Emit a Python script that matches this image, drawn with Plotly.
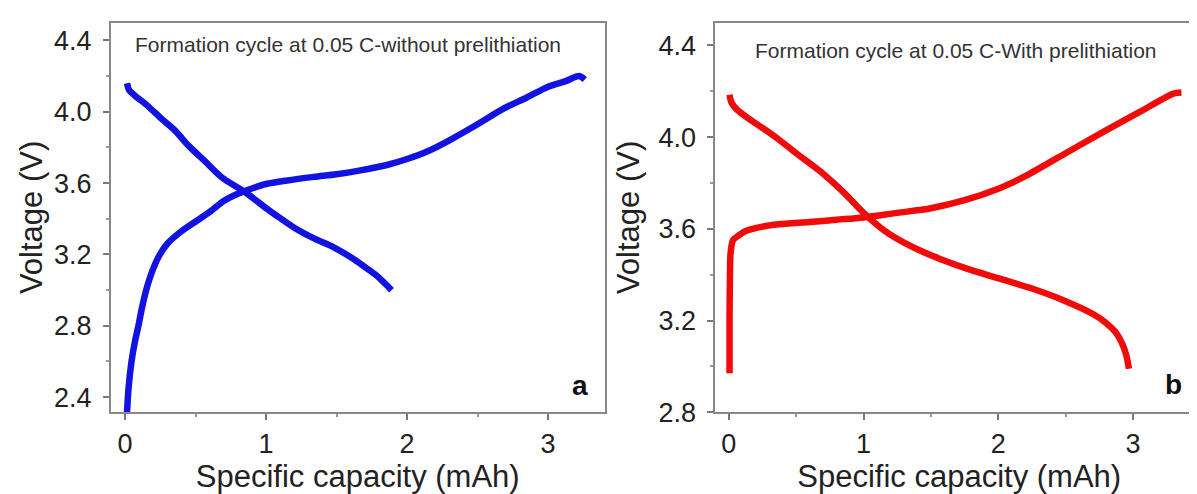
import plotly.graph_objects as go

# Panel a: without prelithiation (blue)
cap_a_charge = [0.014, 0.025, 0.046, 0.07, 0.095, 0.12, 0.15, 0.19, 0.24, 0.30, 0.40, 0.53, 0.62, 0.70, 0.80, 0.90, 1.0, 1.15, 1.34, 1.5, 1.66, 1.85, 2.0, 2.15, 2.30, 2.5, 2.69, 2.85, 3.0, 3.12, 3.22, 3.26]
volt_a_charge = [2.31, 2.45, 2.60, 2.71, 2.80, 2.90, 3.00, 3.10, 3.19, 3.26, 3.33, 3.40, 3.45, 3.50, 3.54, 3.57, 3.595, 3.615, 3.635, 3.65, 3.67, 3.70, 3.735, 3.78, 3.84, 3.93, 4.02, 4.08, 4.14, 4.17, 4.20, 4.18]
cap_a_dis = [0.014, 0.03, 0.07, 0.15, 0.26, 0.36, 0.45, 0.57, 0.69, 0.85, 1.0, 1.07, 1.2, 1.34, 1.48, 1.61, 1.70, 1.77, 1.84, 1.89]
volt_a_dis = [4.16, 4.12, 4.09, 4.04, 3.96, 3.89, 3.81, 3.72, 3.63, 3.55, 3.46, 3.42, 3.35, 3.29, 3.24, 3.18, 3.13, 3.09, 3.04, 3.00]

# Panel b: with prelithiation (red)
cap_b_charge = [0.005, 0.005, 0.008, 0.012, 0.03, 0.07, 0.12, 0.25, 0.37, 0.6, 0.8, 1.0, 1.25, 1.5, 1.75, 2.0, 2.2, 2.5, 2.8, 3.05, 3.3, 3.36]
volt_b_charge = [2.97, 3.2, 3.4, 3.49, 3.55, 3.57, 3.59, 3.61, 3.62, 3.63, 3.64, 3.65, 3.67, 3.69, 3.725, 3.775, 3.83, 3.93, 4.03, 4.11, 4.19, 4.195]
cap_b_dis = [0.005, 0.02, 0.06, 0.15, 0.25, 0.37, 0.5, 0.68, 0.85, 1.0, 1.16, 1.3, 1.5, 1.75, 2.0, 2.25, 2.5, 2.7, 2.8, 2.87, 2.92, 2.95, 2.97]
volt_b_dis = [4.185, 4.15, 4.12, 4.08, 4.04, 3.99, 3.93, 3.85, 3.76, 3.67, 3.59, 3.54, 3.485, 3.43, 3.385, 3.34, 3.285, 3.23, 3.19, 3.15, 3.10, 3.05, 2.99]

x_ticks = [0, 1, 2, 3]
y_ticks_a = [2.4, 2.8, 3.2, 3.6, 4.0, 4.4]
y_ticks_b = [2.8, 3.2, 3.6, 4.0, 4.4]
titles = ["Formation cycle at 0.05 C-without prelithiation", "Formation cycle at 0.05 C-With prelithiation"]
panel_labels = ["a", "b"]

BLUE = "rgb(18,18,225)"
RED = "rgb(240,10,10)"
FONT = "Liberation Sans, Arial, sans-serif"

fig = go.Figure()
for x, y, c, ax in [(cap_a_charge, volt_a_charge, BLUE, "1"), (cap_a_dis, volt_a_dis, BLUE, "1"),
                    (cap_b_charge, volt_b_charge, RED, "2"), (cap_b_dis, volt_b_dis, RED, "2")]:
    fig.add_trace(go.Scatter(x=x, y=y, mode="lines", line=dict(color=c, width=6.5, shape="spline", smoothing=0.8),
                             xaxis="x" + ("" if ax == "1" else "2"), yaxis="y" + ("" if ax == "1" else "2"),
                             showlegend=False))

def xax(domain, rng, anchor):
    return dict(domain=domain, range=rng, anchor=anchor, tickvals=x_ticks, ticks="outside", ticklen=6,
                tickwidth=1.5, tickcolor="#777", showline=True, linecolor="#888", linewidth=2, mirror=True,
                showgrid=False, zeroline=False, tickfont=dict(family=FONT, size=27, color="#222"),
                title=dict(text="Specific capacity (mAh)", font=dict(family=FONT, size=31, color="#222"), standoff=1),
                minor=dict(dtick=0.5, ticks="outside", ticklen=3, tickcolor="#999", tick0=0))

def yax(domain, rng, ticks, anchor, standoff):
    return dict(domain=domain, range=rng, anchor=anchor, tickvals=ticks, ticktext=[f"{t:.1f}" for t in ticks],
                ticks="outside", ticklen=6, tickwidth=1.5, tickcolor="#777", showline=True, linecolor="#888",
                linewidth=2, mirror=True, showgrid=False, zeroline=False, ticklabelstandoff=6,
                tickfont=dict(family=FONT, size=27, color="#222"),
                title=dict(text="Voltage (V)", font=dict(family=FONT, size=31, color="#222"), standoff=standoff),
                minor=dict(dtick=0.2, tick0=2.4, ticks="outside", ticklen=3, tickcolor="#999"))

ydom = [1 - 417 / 494, 1 - 15 / 494]
fig.update_layout(
    width=1197, height=494, margin=dict(l=0, r=0, t=0, b=0),
    plot_bgcolor="white", paper_bgcolor="white",
    xaxis=xax([103 / 1197, 597 / 1197], [-0.1, 3.4], "y"),
    yaxis=yax(ydom, [2.315, 4.5], y_ticks_a, "x", 2),
    xaxis2=xax([708 / 1197, 1196 / 1197], [-0.1, 3.52], "y2"),
    yaxis2=yax(ydom, [2.8, 4.5], y_ticks_b, "x2", 10),
)

title_pos = [(340, 38), (949, 44)]
label_pos = [(572, 389), (1166, 388)]
for t, lab, (tx, ty), (lx, ly) in zip(titles, panel_labels, title_pos, label_pos):
    fig.add_annotation(text=t, xref="paper", yref="paper", x=tx / 1197, y=1 - ty / 494,
                       xanchor="center", yanchor="middle",
                       showarrow=False, font=dict(family=FONT, size=21, color="#333"))
    fig.add_annotation(text="<b>" + lab + "</b>", xref="paper", yref="paper", x=lx / 1197, y=1 - ly / 494,
                       xanchor="center", yanchor="middle",
                       showarrow=False, font=dict(family=FONT, size=28, color="#111"))

fig.write_html("out.html")
